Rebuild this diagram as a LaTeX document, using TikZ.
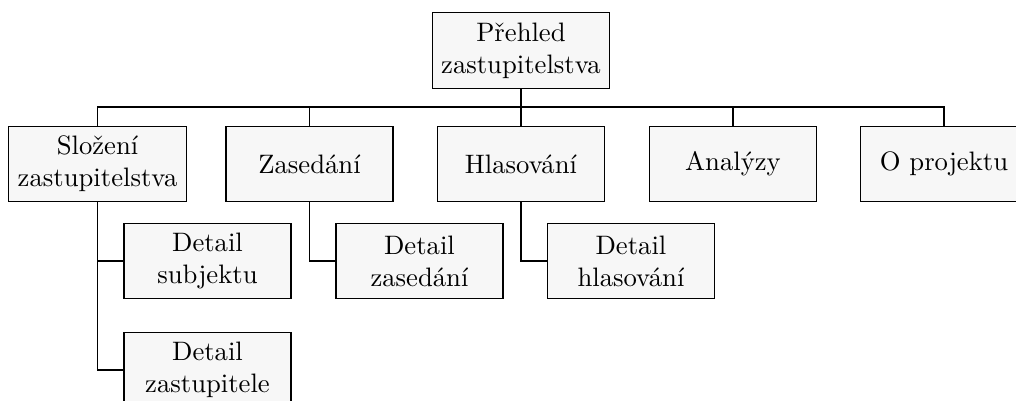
\documentclass[tikz,border=0pt]{standalone}
\usepackage{fontspec}
\tikzset{
    page/.style={draw, fill=gray!6, minimum width=2.2cm, minimum height=1cm, align=center, inner sep=3.33pt},
}
\begin{document}
\begin{tikzpicture}
    \useasboundingbox (0,0) rectangle (13.386,-5.283);
    % Root page
    \node[page] (root) at (6.864,-0.665) {Přehled\\zastupitelstva};
    \coordinate (bus) at (6.864,-1.41);
    \draw (root.south) -- (bus);
    % Main sections
    \foreach \x/\name/\txt in {1.285/slozeni/{Složení\\zastupitelstva},
                               4.078/zasedani/Zasedání,
                               6.864/hlasovani/Hlasování,
                               9.657/analyzy/Analýzy,
                               12.437/projekt/O projektu} {
        \node[page] (\name) at (\x,-2.161) {\txt};
        \draw (bus) -| (\name.north);
    }
    % Detail pages
    \node[page] (detsub) at (2.734,-3.439) {Detail\\subjektu};
    \node[page] (detzast) at (2.734,-4.875) {Detail\\zastupitele};
    \node[page] (detzas) at (5.527,-3.439) {Detail\\zasedání};
    \node[page] (dethlas) at (8.313,-3.439) {Detail\\hlasování};
    \draw (slozeni.south) |- (detsub.west);
    \draw (slozeni.south) |- (detzast.west);
    \draw (zasedani.south) |- (detzas.west);
    \draw (hlasovani.south) |- (dethlas.west);
\end{tikzpicture}
\end{document}
